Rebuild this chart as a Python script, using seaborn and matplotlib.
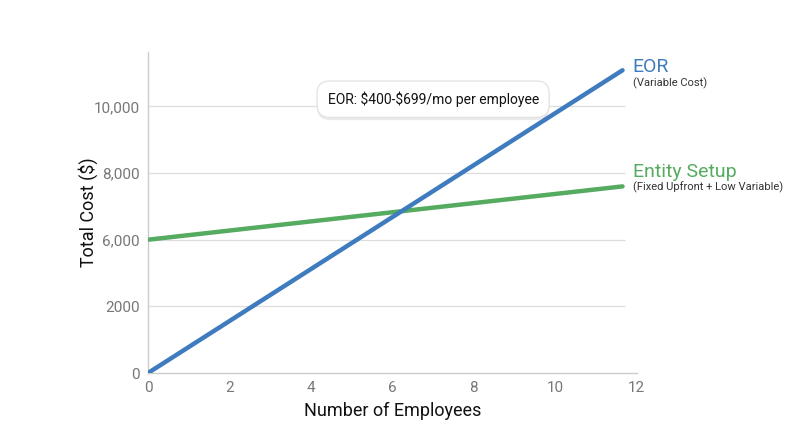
import matplotlib
matplotlib.use("Agg")
import matplotlib.pyplot as plt
import matplotlib.patheffects as pe
import seaborn as sns
import pandas as pd

# --- DADOS ---
employees = [0, 11.65]
eor_cost = [0, 9085]
entity_cost = [4000, 5600]

x_ticks = [0, 2, 4, 6, 8, 10, 12]
y_ticks = [0, 2000, 4000, 6000, 8000]
y_tick_labels = ["0", "2000", "6,000", "8,000", "10,000"]

BLUE = "#3F7BBF"
GREEN = "#55AB5F"
GRAY = "#777777"

sns.set_theme(style="white")
plt.rcParams["font.family"] = ["Roboto", "DejaVu Sans"]

df = pd.DataFrame({
    "employees": employees * 2,
    "cost": eor_cost + entity_cost,
    "plan": ["EOR"] * 2 + ["Entity Setup"] * 2,
})

fig = plt.figure(figsize=(8, 4.47), dpi=100)
ax = fig.add_axes([0.185, 0.1655, 0.611, 0.718])

# grid lines
ax.hlines(y_ticks[1:], 0, 11.7, color="#dddddd", lw=0.9, zorder=0)

sns.lineplot(data=df, x="employees", y="cost", hue="plan",
             palette={"EOR": BLUE, "Entity Setup": GREEN},
             lw=3.2, legend=False, ax=ax, zorder=3)
# blue line on top of the green one
ax.lines[-2].set_zorder(4)

ax.set_xlim(0, 12)
ax.set_ylim(0, 9630)
ax.set_xticks(x_ticks)
ax.set_yticks(y_ticks)
ax.set_yticklabels(y_tick_labels)
ax.tick_params(axis="both", length=0, labelsize=11, labelcolor=GRAY, pad=6)
ax.margins(0)

for side in ["top", "right"]:
    ax.spines[side].set_visible(False)
for side in ["left", "bottom"]:
    ax.spines[side].set_color("#cccccc")
    ax.spines[side].set_linewidth(1)

ax.set_xlabel("Number of Employees", fontsize=13, color="#111111", labelpad=5)
ax.set_ylabel("Total Cost ($)", fontsize=13, color="#111111", labelpad=-3)

# labels at the end of the lines
ax.text(11.9, eor_cost[-1] + 90, "EOR", color=BLUE, fontsize=14, va="center", clip_on=False)
ax.text(11.9, eor_cost[-1] - 390, "(Variable Cost)", color="#333333", fontsize=8,
        va="center", clip_on=False)
ax.text(11.9, entity_cost[-1] + 420, "Entity Setup", color=GREEN, fontsize=14,
        va="center", clip_on=False)
ax.text(11.9, entity_cost[-1] - 20, "(Fixed Upfront + Low Variable)", color="#333333",
        fontsize=8, va="center", clip_on=False)

# callout
callout = r"EOR: \$400-\$699/mo per employee"
t = ax.text(7.0, 8216, callout, fontsize=10, color="#111111",
            ha="center", va="center", zorder=6,
            bbox=dict(boxstyle="round,pad=0.75,rounding_size=0.9", fc="white",
                      ec="#e4e4e4", lw=1))
t.get_bbox_patch().set_path_effects([
    pe.SimplePatchShadow(offset=(0, -2), shadow_rgbFace="#000000", alpha=0.08),
    pe.Normal(),
])

plt.savefig("out.png", dpi=100)
